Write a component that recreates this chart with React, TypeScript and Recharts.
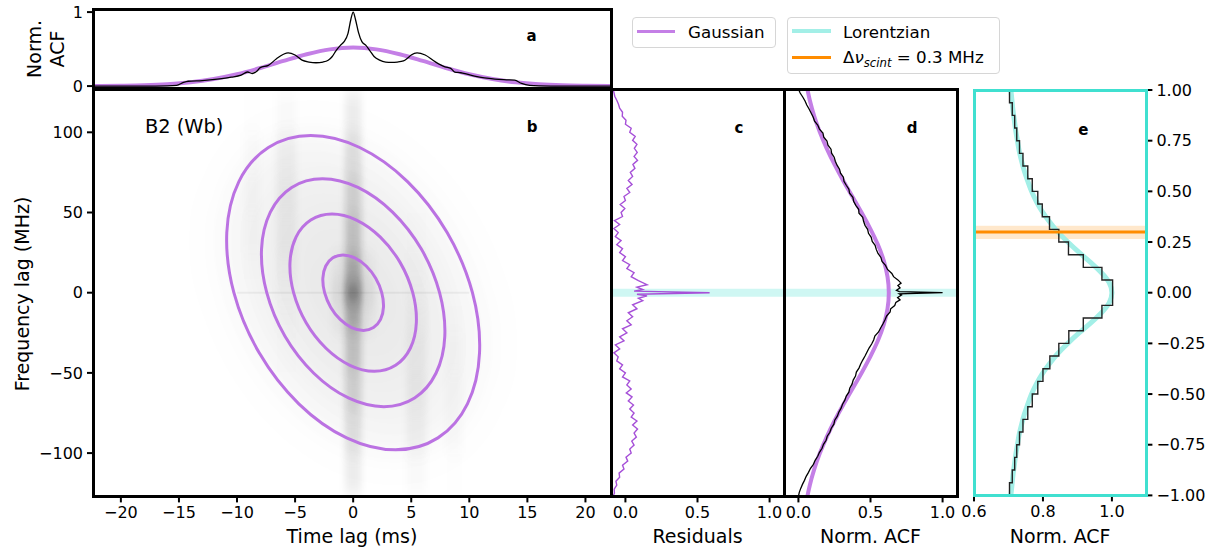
import React from "react";
import { ComposedChart, Line, XAxis, YAxis, ReferenceArea, ReferenceLine } from "recharts";

// ---------- data ----------
const timeTicks = [-20, -15, -10, -5, 0, 5, 10, 15, 20];
const freqTicks = [-100, -50, 0, 50, 100];
const acfTicks = [0, 0.5, 1];
const zoomAcfTicks = [0.6, 0.8, 1.0];
const zoomFreqTicks = [-1, -0.75, -0.5, -0.25, 0, 0.25, 0.5, 0.75, 1];

// panel a: ACF vs time lag [t ms, norm ACF]
const timeAcf = [
  [-22.4, 0], [-18, 0], [-16, 0.003], [-15.2, 0.01], [-14.6, 0.05], [-14.2, 0.065], [-13, 0.075],
  [-11.7, 0.094], [-10.5, 0.12], [-9.65, 0.148], [-9.1, 0.19], [-8.7, 0.17], [-8.3, 0.2], [-8.0, 0.25],
  [-7.3, 0.28], [-6.6, 0.37], [-6.0, 0.43], [-5.6, 0.45], [-5.0, 0.42], [-4.4, 0.35], [-3.8, 0.325],
  [-3.2, 0.315], [-2.6, 0.325], [-2.15, 0.35], [-1.8, 0.4], [-1.47, 0.48], [-1.1, 0.55], [-0.78, 0.6],
  [-0.45, 0.71], [-0.2, 0.9], [0, 1.0], [0.2, 0.9], [0.45, 0.73], [0.75, 0.6], [1.1, 0.55], [1.43, 0.48],
  [1.8, 0.4], [2.28, 0.35], [2.8, 0.325], [3.3, 0.32], [3.8, 0.325], [4.33, 0.34], [4.7, 0.38], [5.0, 0.42],
  [5.5, 0.45], [6.2, 0.42], [7.05, 0.33], [7.9, 0.26], [8.4, 0.24], [8.75, 0.19], [9.27, 0.18], [9.8, 0.16],
  [10.45, 0.135], [11.3, 0.11], [12.2, 0.094], [13.2, 0.085], [13.9, 0.08], [14.5, 0.036], [15.2, 0.01],
  [16, 0.003], [18, 0], [22.2, 0],
];
const timeGauss = [
  [-24, 0.001], [-22, 0.002], [-20, 0.005], [-18, 0.011], [-16, 0.025], [-14, 0.051], [-12, 0.095],
  [-10, 0.159], [-8, 0.244], [-6, 0.34], [-4, 0.43], [-2, 0.496], [0, 0.52], [2, 0.496], [4, 0.43],
  [6, 0.34], [8, 0.244], [10, 0.159], [12, 0.095], [14, 0.051], [16, 0.025], [18, 0.011], [20, 0.005],
  [22, 0.002], [24, 0.001],
];

// panel b: Gaussian-fit contours [t ms, f MHz]
const contour1 = [
  [2.46, 0], [1.94, 9.0], [1.12, 16.63], [0.13, 21.72], [-0.88, 23.52], [-1.75, 21.72], [-2.36, 16.63], [-2.61, 9.0],
  [-2.46, 0], [-1.94, -9.0], [-1.12, -16.63], [-0.13, -21.72], [0.88, -23.52], [1.75, -21.72], [2.36, -16.63], [2.61, -9.0],
];
const contour2 = [
  [5.13, 0], [4.05, 18.75], [2.34, 34.64], [0.28, 45.26], [-1.82, 48.99], [-3.65, 45.26], [-4.92, 34.64], [-5.44, 18.75],
  [-5.13, 0], [-4.05, -18.75], [-2.34, -34.64], [-0.28, -45.26], [1.82, -48.99], [3.65, -45.26], [4.92, -34.64], [5.44, -18.75],
];
const contour3 = [
  [7.44, 0], [5.87, 27.19], [3.39, 50.23], [0.41, 65.63], [-2.64, 71.04], [-5.29, 65.63], [-7.13, 50.23], [-7.89, 27.19],
  [-7.44, 0], [-5.87, -27.19], [-3.39, -50.23], [-0.41, -65.63], [2.64, -71.04], [5.29, -65.63], [7.13, -50.23], [7.89, -27.19],
];
const contour4 = [
  [10.27, 0], [8.09, 37.5], [4.68, 69.28], [0.56, 90.52], [-3.65, 97.98], [-7.3, 90.52], [-9.84, 69.28], [-10.88, 37.5],
  [-10.27, 0], [-8.09, -37.5], [-4.68, -69.28], [-0.56, -90.52], [3.65, -97.98], [7.3, -90.52], [9.84, -69.28], [10.88, -37.5],
];

// panel b: 2D ACF image, coarse stripes (time span in ms, darkness per frequency bin)
const heatFreqEdges = [125, 100, 75, 50, 25, 8, -8, -25, -50, -75, -100, -125];
const stripeSpans = [[-0.7, 0.7], [-1.8, 1.8], [-6.6, -4.9], [4.6, 6.3], [-9.4, -8.0], [8.0, 9.4]];
const stripeLevels = [
  [0.07, 0.11, 0.15, 0.2, 0.27, 0.42, 0.27, 0.2, 0.15, 0.11, 0.07],
  [0, 0, 0, 0, 0.03, 0.08, 0.03, 0, 0, 0, 0],
  [0.02, 0.045, 0.05, 0.045, 0.03, 0.02, 0.01, 0.005, 0, 0, 0],
  [0, 0, 0, 0.005, 0.01, 0.02, 0.03, 0.045, 0.05, 0.045, 0.02],
  [0.005, 0.015, 0.02, 0.015, 0.005, 0, 0, 0, 0, 0, 0],
  [0, 0, 0, 0, 0, 0, 0.005, 0.015, 0.02, 0.02, 0.005],
];
const zeroFreqRow = { t: [-10, 10], f: [-0.6, 0.6], level: 0.05 };

// panel c: residuals [f MHz, residual]
const residuals = [
  [127.5, -0.09], [125, -0.08], [122.5, -0.074], [120, -0.06], [117.5, -0.048], [115, -0.04], [112.5, -0.02],
  [110, -0.022], [107.5, 0.004], [105, 0], [102.5, 0.04], [100, 0.03], [97.5, 0.068], [95, 0.05], [92.5, 0.08],
  [90, 0.062], [87.5, 0.082], [85, 0.06], [82.5, 0.084], [80, 0.052], [77.5, 0.066], [75, 0.034], [72.5, 0.05],
  [70, 0.02], [67.5, 0.046], [65, 0.01], [62.5, 0.03], [60, -0.01], [57.5, 0], [55, -0.036], [52.5, -0.004],
  [50, -0.03], [47.5, -0.02], [45, -0.076], [42.5, -0.04], [40, -0.08], [37.5, -0.05], [35, -0.07], [32.5, -0.03],
  [30, -0.06], [27.5, -0.02], [25, -0.04], [22.5, 0], [20, -0.02], [17.5, 0.03], [15, 0.01], [12.5, 0.06],
  [10, 0.04], [7.5, 0.09], [5, 0.15], [3.5, 0.08], [2, 0.12], [1, 0.06], [0, 0.584], [-1, 0.08], [-2, 0.15],
  [-3.5, 0.09], [-5, 0.12], [-7.5, 0.05], [-10, 0.08], [-12.5, 0.02], [-15, 0.05], [-17.5, 0.01], [-20, 0.04],
  [-22.5, -0.02], [-25, 0.01], [-27.5, -0.04], [-30, -0.01], [-32.5, -0.07], [-35, -0.04], [-37.5, -0.08],
  [-40, -0.05], [-42.5, -0.06], [-45, -0.02], [-47.5, -0.04], [-50, 0], [-52.5, -0.02], [-55, 0.03],
  [-57.5, 0.01], [-60, 0.04], [-62.5, 0.006], [-65, 0.046], [-67.5, 0.02], [-70, 0.056], [-72.5, 0.03],
  [-75, 0.06], [-77.5, 0.04], [-80, 0.08], [-82.5, 0.05], [-85, 0.084], [-87.5, 0.06], [-90, 0.076],
  [-92.5, 0.044], [-95, 0.06], [-97.5, 0.03], [-100, 0.04], [-102.5, 0.004], [-105, 0.016], [-107.5, -0.02],
  [-110, -0.01], [-112.5, -0.044], [-115, -0.04], [-117.5, -0.066], [-120, -0.06], [-122.5, -0.078],
  [-125, -0.076], [-127.5, -0.09],
];

// panel d: ACF vs frequency lag [f MHz, norm ACF]
const freqAcf = [
  [127, 0], [124.5, 0.012], [122, 0.03], [119.5, 0.046], [117, 0.058], [114.5, 0.074], [112, 0.088],
  [109.5, 0.102], [107, 0.112], [104.5, 0.134], [102, 0.146], [99.5, 0.17], [97, 0.176], [94.5, 0.198],
  [92, 0.205], [89.5, 0.226], [87, 0.23], [84.5, 0.248], [82, 0.256], [79.5, 0.268], [77, 0.285], [74.5, 0.292],
  [72, 0.312], [69.5, 0.316], [67, 0.332], [64.5, 0.35], [62, 0.355], [59.5, 0.378], [57, 0.383], [54.5, 0.398],
  [52, 0.418], [49.5, 0.42], [47, 0.446], [44.5, 0.452], [42, 0.462], [39.5, 0.48], [37, 0.486], [34.5, 0.505],
  [32, 0.512], [29.5, 0.532], [27, 0.54], [24.5, 0.552], [22, 0.572], [19.5, 0.58], [17, 0.604], [14.5, 0.618],
  [12, 0.648], [10, 0.66], [8, 0.69], [6, 0.712], [4.5, 0.69], [3, 0.705], [1.5, 0.68], [0.7, 0.7], [0, 1.0],
  [-0.7, 0.7], [-1.5, 0.715], [-3, 0.688], [-4.5, 0.705], [-6, 0.676], [-8, 0.668], [-10, 0.64], [-12, 0.636],
  [-14.5, 0.612], [-17, 0.6], [-19.5, 0.586], [-22, 0.57], [-24.5, 0.556], [-27, 0.53], [-29.5, 0.522],
  [-32, 0.508], [-34.5, 0.49], [-37, 0.476], [-39.5, 0.462], [-42, 0.446], [-44.5, 0.432], [-47, 0.42],
  [-49.5, 0.402], [-52, 0.396], [-54.5, 0.38], [-57, 0.372], [-59.5, 0.356], [-62, 0.35], [-64.5, 0.332],
  [-67, 0.322], [-69.5, 0.306], [-72, 0.296], [-74.5, 0.28], [-77, 0.27], [-79.5, 0.252], [-82, 0.246],
  [-84.5, 0.228], [-87, 0.218], [-89.5, 0.2], [-92, 0.192], [-94.5, 0.174], [-97, 0.164], [-99.5, 0.146],
  [-102, 0.134], [-104.5, 0.116], [-107, 0.104], [-109.5, 0.084], [-112, 0.07], [-114.5, 0.054], [-117, 0.042],
  [-119.5, 0.028], [-122, 0.016], [-124.5, 0.006], [-127, 0],
];
const freqGauss = [
  [130, 0.055], [120, 0.079], [110, 0.11], [100, 0.149], [90, 0.196], [80, 0.25], [70, 0.31], [60, 0.374],
  [50, 0.438], [40, 0.498], [30, 0.551], [20, 0.592], [10, 0.618], [0, 0.627], [-10, 0.618], [-20, 0.592],
  [-30, 0.551], [-40, 0.498], [-50, 0.438], [-60, 0.374], [-70, 0.31], [-80, 0.25], [-90, 0.196],
  [-100, 0.149], [-110, 0.11], [-120, 0.079], [-130, 0.055],
];

// panel e: zoom on the central MHz [f MHz, norm ACF]
const zoomAcf = [
  [1.0, 0.703], [0.96875, 0.703], [0.90625, 0.711], [0.84375, 0.718], [0.78125, 0.724], [0.71875, 0.732],
  [0.65625, 0.742], [0.59375, 0.756], [0.53125, 0.769], [0.46875, 0.785], [0.40625, 0.798], [0.34375, 0.819],
  [0.28125, 0.846], [0.21875, 0.874], [0.15625, 0.917], [0.09375, 0.971], [0.03125, 1.002], [-0.03125, 1.002],
  [-0.09375, 0.971], [-0.15625, 0.917], [-0.21875, 0.875], [-0.28125, 0.846], [-0.34375, 0.82], [-0.40625, 0.8],
  [-0.46875, 0.785], [-0.53125, 0.769], [-0.59375, 0.756], [-0.65625, 0.742], [-0.71875, 0.732],
  [-0.78125, 0.724], [-0.84375, 0.718], [-0.90625, 0.711], [-0.96875, 0.703], [-1.0, 0.703],
];
const zoomLorentz = [
  [1.0, 0.707], [0.95, 0.71], [0.9, 0.713], [0.85, 0.717], [0.8, 0.721], [0.75, 0.726], [0.7, 0.731],
  [0.65, 0.738], [0.6, 0.746], [0.55, 0.756], [0.5, 0.767], [0.45, 0.781], [0.4, 0.798], [0.35, 0.819],
  [0.3, 0.843], [0.25, 0.872], [0.2, 0.904], [0.15, 0.938], [0.1, 0.969], [0.05, 0.992], [0, 1.0],
  [-0.05, 0.992], [-0.1, 0.969], [-0.15, 0.938], [-0.2, 0.904], [-0.25, 0.872], [-0.3, 0.843], [-0.35, 0.819],
  [-0.4, 0.798], [-0.45, 0.781], [-0.5, 0.767], [-0.55, 0.756], [-0.6, 0.746], [-0.65, 0.738], [-0.7, 0.731],
  [-0.75, 0.726], [-0.8, 0.721], [-0.85, 0.717], [-0.9, 0.713], [-0.95, 0.71], [-1.0, 0.707],
];
const scintBw = 0.3;
const scintBand = [0.265, 0.33];
const zeroLagBand = [-2.5, 2.5];

// ---------- helpers ----------
const FONT = "'DejaVu Sans', sans-serif";
const PURPLE = "#bb72e2";
const GAUSS = "#c47fe6";
const RESID = "#a650d8";
const CYAN_LINE = "#a3efe7";
const TURQ = "#40e0d0";
const ORANGE = "#ff8c00";

const tv = (rows: number[][]) => rows.map(([t, v]) => ({ t, v }));
const tf = (rows: number[][]) => rows.map(([t, f]) => ({ t, f }));
const fv = (rows: number[][]) => rows.map(([f, v]) => ({ f, v }));
const fmt = (d: number) => (v: number) => v.toFixed(d).replace("-", "\u2212");

const contours = [contour1, contour2, contour3, contour4].map(tf);
const heatCells = stripeSpans.flatMap((span, i) =>
  stripeLevels[i]
    .map((level, j) => ({ key: `${i}-${j}`, x1: span[0], x2: span[1], y1: heatFreqEdges[j + 1], y2: heatFreqEdges[j], level }))
    .filter((c) => c.level > 0)
);

// closed Catmull-Rom curve for the contour rings
function closedSmooth(context: any) {
  let pts: number[][] = [];
  return {
    areaStart() {},
    areaEnd() {},
    lineStart() { pts = []; },
    point(x: number, y: number) { pts.push([+x, +y]); },
    lineEnd() {
      const n = pts.length;
      if (n < 3) return;
      context.moveTo(pts[0][0], pts[0][1]);
      for (let i = 0; i < n; i++) {
        const p0 = pts[(i + n - 1) % n], p1 = pts[i], p2 = pts[(i + 1) % n], p3 = pts[(i + 2) % n];
        context.bezierCurveTo(
          p1[0] + (p2[0] - p0[0]) / 6, p1[1] + (p2[1] - p0[1]) / 6,
          p2[0] - (p3[0] - p1[0]) / 6, p2[1] - (p3[1] - p1[1]) / 6,
          p2[0], p2[1]
        );
      }
      context.closePath();
    },
  };
}

// step curve that changes value half-way between channels along y
function stepMidY(context: any) {
  let prev: number[] | null = null;
  return {
    areaStart() {},
    areaEnd() {},
    lineStart() { prev = null; },
    point(x: number, y: number) {
      if (!prev) context.moveTo(x, y);
      else {
        const my = (prev[1] + y) / 2;
        context.lineTo(prev[0], my);
        context.lineTo(x, my);
        context.lineTo(x, y);
      }
      prev = [x, y];
    },
    lineEnd() {},
  };
}

const tickStyle = { fontSize: 16, fill: "#000", fontFamily: FONT };
const tickLineStyle = { stroke: "#000", strokeWidth: 2 };
const xLabel = (value: string) => ({ value, position: "insideBottom", offset: 8, fontSize: 19, fill: "#000", fontFamily: FONT });
const noAnim = { dot: false, activeDot: false, isAnimationActive: false } as const;

const abs = (left: number, top: number, extra: React.CSSProperties = {}): React.CSSProperties => ({ position: "absolute", left, top, ...extra });

function Frame({ x0, y0, x1, y1, color = "#000" }: { x0: number; y0: number; x1: number; y1: number; color?: string }) {
  return (
    <div
      style={abs(x0 - 1.5, y0 - 1.5, {
        width: x1 - x0 + 3, height: y1 - y0 + 3, border: `3px solid ${color}`, boxSizing: "border-box", pointerEvents: "none",
      })}
    />
  );
}

function Txt({ x, base, size, children, bold, center }: { x: number; base: number; size: number; children: React.ReactNode; bold?: boolean; center?: boolean }) {
  return (
    <div
      style={abs(x, base - 0.846 * size, {
        fontSize: size, lineHeight: `${size}px`, fontWeight: bold ? "bold" : "normal", whiteSpace: "nowrap",
        transform: center ? "translateX(-50%)" : undefined,
      })}
    >
      {children}
    </div>
  );
}

export default function App() {
  return (
    <div style={{ position: "absolute", left: 0, top: 0, width: 1221, height: 551, background: "#fff", fontFamily: FONT, color: "#000", overflow: "hidden" }}>
      <style>{`
        .hm-stripe path { filter: url(#stripeBlur); }
        .hm-blob .recharts-line-curve { fill: #000; fill-opacity: 0.014; stroke: none; filter: url(#blobBlur); }
        .hm-halo .recharts-line-curve { fill: #000; fill-opacity: 0.03; stroke: none; filter: url(#haloBlur); }
      `}</style>
      <svg width={0} height={0} style={{ position: "absolute" }}>
        <defs>
          <filter id="stripeBlur" filterUnits="userSpaceOnUse" x={-300} y={-300} width={2000} height={1200}>
            <feGaussianBlur stdDeviation="3 8" />
          </filter>
          <filter id="blobBlur" filterUnits="userSpaceOnUse" x={-300} y={-300} width={2000} height={1200}>
            <feGaussianBlur stdDeviation={12} />
          </filter>
          <filter id="haloBlur" filterUnits="userSpaceOnUse" x={-300} y={-300} width={2000} height={1200}>
            <feGaussianBlur stdDeviation={26} />
          </filter>
        </defs>
      </svg>

      {/* panel a */}
      <div style={abs(0, 0)}>
        <ComposedChart width={616} height={100} margin={{ top: 9.5, right: 5, bottom: 11.7, left: 0 }}>
          <XAxis type="number" dataKey="t" domain={[-22.4, 22.2]} hide allowDataOverflow />
          <YAxis type="number" domain={[-0.03, 1.035]} ticks={[0, 1]} width={93} tick={tickStyle} tickLine={tickLineStyle}
            axisLine={false} tickSize={6} tickMargin={4} interval={0} allowDataOverflow />
          <Line data={tv(timeGauss)} dataKey="v" type="monotone" stroke={GAUSS} strokeWidth={4} {...noAnim} />
          <Line data={tv(timeAcf)} dataKey="v" type="monotone" stroke="#000" strokeWidth={1.3} {...noAnim} />
        </ComposedChart>
      </div>

      {/* panel b: image layer */}
      <div style={abs(0, 77)}>
        <ComposedChart width={616} height={474} margin={{ top: 12, right: 5, bottom: 54.6, left: 93 }}>
          <XAxis type="number" dataKey="t" domain={[-22.4, 22.2]} hide allowDataOverflow />
          <YAxis type="number" domain={[-127, 127]} hide allowDataOverflow />
          <Line data={contours[3]} dataKey="f" type={closedSmooth as any} className="hm-halo" stroke="none" {...noAnim} />
          {contours.map((c, i) => (
            <Line key={i} data={c} dataKey="f" type={closedSmooth as any} className="hm-blob" stroke="none" {...noAnim} />
          ))}
          {heatCells.map((c) => (
            <ReferenceArea key={c.key} x1={c.x1} x2={c.x2} y1={c.y1} y2={c.y2} fill="#000" fillOpacity={c.level}
              stroke="none" ifOverflow="hidden" className="hm-stripe" />
          ))}
          <ReferenceArea x1={zeroFreqRow.t[0]} x2={zeroFreqRow.t[1]} y1={zeroFreqRow.f[0]} y2={zeroFreqRow.f[1]}
            fill="#000" fillOpacity={zeroFreqRow.level} stroke="none" ifOverflow="hidden" />
        </ComposedChart>
      </div>

      {/* panel b: axes + contours */}
      <div style={abs(0, 77)}>
        <ComposedChart width={616} height={474} margin={{ top: 12, right: 5, bottom: 0, left: 0 }}>
          <XAxis type="number" dataKey="t" domain={[-22.4, 22.2]} ticks={timeTicks} height={54.6} tick={tickStyle}
            tickLine={tickLineStyle} axisLine={false} tickSize={6} tickMargin={4} interval={0} tickFormatter={fmt(0)}
            allowDataOverflow label={xLabel("Time lag (ms)")} />
          <YAxis type="number" domain={[-127, 127]} ticks={freqTicks} width={93} tick={tickStyle} tickLine={tickLineStyle}
            axisLine={false} tickSize={6} tickMargin={4} interval={0} tickFormatter={fmt(0)} allowDataOverflow />
          {contours.map((c, i) => (
            <Line key={i} data={c} dataKey="f" type={closedSmooth as any} stroke={PURPLE} strokeWidth={3} {...noAnim} />
          ))}
        </ComposedChart>
      </div>

      {/* panel c */}
      <div style={abs(601, 77)}>
        <ComposedChart width={188} height={474} margin={{ top: 12, right: 5, bottom: 0, left: 0 }}>
          <XAxis type="number" dataKey="v" domain={[-0.1, 1.1]} ticks={acfTicks} height={54.6} tick={tickStyle}
            tickLine={tickLineStyle} axisLine={false} tickSize={6} tickMargin={4} interval={0} tickFormatter={fmt(1)}
            allowDataOverflow label={xLabel("Residuals")} />
          <YAxis type="number" domain={[-127, 127]} ticks={freqTicks} width={10} tick={false} tickLine={tickLineStyle}
            axisLine={false} tickSize={6} interval={0} allowDataOverflow />
          <ReferenceArea y1={zeroLagBand[0]} y2={zeroLagBand[1]} fill={TURQ} fillOpacity={0.25} stroke="none" />
          <Line data={fv(residuals)} dataKey="f" type="linear" stroke={RESID} strokeWidth={1.4} {...noAnim} />
        </ComposedChart>
      </div>

      {/* panel d */}
      <div style={abs(774, 77)}>
        <ComposedChart width={188} height={474} margin={{ top: 12, right: 5, bottom: 0, left: 0 }}>
          <XAxis type="number" dataKey="v" domain={[-0.1, 1.1]} ticks={acfTicks} height={54.6} tick={tickStyle}
            tickLine={tickLineStyle} axisLine={false} tickSize={6} tickMargin={4} interval={0} tickFormatter={fmt(1)}
            allowDataOverflow label={xLabel("Norm. ACF")} />
          <YAxis type="number" domain={[-127, 127]} ticks={freqTicks} width={10} tick={false} tickLine={tickLineStyle}
            axisLine={false} tickSize={6} interval={0} allowDataOverflow />
          <ReferenceArea y1={zeroLagBand[0]} y2={zeroLagBand[1]} fill={TURQ} fillOpacity={0.25} stroke="none" />
          <Line data={fv(freqGauss)} dataKey="f" type="natural" stroke={GAUSS} strokeWidth={4} {...noAnim} />
          <Line data={fv(freqAcf)} dataKey="f" type="linear" stroke="#000" strokeWidth={1.3} {...noAnim} />
        </ComposedChart>
      </div>

      {/* panel e */}
      <div style={abs(954.3, 78)}>
        <ComposedChart width={262.4} height={473} margin={{ top: 12, right: 0, bottom: 0, left: 20 }}>
          <XAxis type="number" dataKey="v" domain={[0.6, 1.1]} ticks={zoomAcfTicks} height={55.6} tick={tickStyle}
            tickLine={tickLineStyle} axisLine={false} tickSize={6} tickMargin={4} interval={0} tickFormatter={fmt(1)}
            allowDataOverflow label={xLabel("Norm. ACF")} />
          <YAxis type="number" orientation="right" domain={[-1, 1]} ticks={zoomFreqTicks} width={70} tick={tickStyle}
            tickLine={tickLineStyle} axisLine={false} tickSize={6} tickMargin={4} interval={0} tickFormatter={fmt(2)}
            allowDataOverflow />
          <ReferenceArea y1={scintBand[0]} y2={scintBand[1]} fill={ORANGE} fillOpacity={0.2} stroke="none" />
          <Line data={fv(zoomLorentz)} dataKey="f" type="natural" stroke={CYAN_LINE} strokeWidth={5} {...noAnim} />
          <Line data={fv(zoomAcf)} dataKey="f" type={stepMidY as any} stroke="#222" strokeWidth={1.4} {...noAnim} />
          <ReferenceLine y={scintBw} stroke={ORANGE} strokeWidth={3} />
        </ComposedChart>
      </div>

      {/* frames */}
      <Frame x0={93} y0={9.5} x1={611} y1={88.3} />
      <Frame x0={93} y0={89} x1={611} y1={496.4} />
      <Frame x0={611} y0={89} x1={784} y1={496.4} />
      <Frame x0={784} y0={89} x1={957} y1={496.4} />
      <Frame x0={974.3} y0={90} x1={1146.7} y1={495.4} color={TURQ} />

      {/* rotated axis labels */}
      <div style={abs(22, 293.5, { transform: "translate(-50%, -50%) rotate(-90deg)", fontSize: 19, lineHeight: "19px", whiteSpace: "nowrap" })}>
        Frequency lag (MHz)
      </div>
      <div style={abs(46, 48.8, { transform: "translate(-50%, -50%) rotate(-90deg)", fontSize: 19, lineHeight: "23px", whiteSpace: "nowrap", textAlign: "center" })}>
        Norm.<br />ACF
      </div>

      {/* panel annotations */}
      <Txt x={531.6} base={41.7} size={15} bold center>a</Txt>
      <Txt x={532} base={132.7} size={15} bold center>b</Txt>
      <Txt x={739} base={133.3} size={15} bold center>c</Txt>
      <Txt x={912} base={133.3} size={15} bold center>d</Txt>
      <Txt x={1083.3} base={136} size={15} bold center>e</Txt>
      <Txt x={145} base={133} size={19.4}>B2 (Wb)</Txt>

      {/* legends */}
      <div style={abs(632, 17.3, { width: 144, height: 31, border: "1px solid #d6d6d6", borderRadius: 4, boxSizing: "border-box", background: "#fff" })} />
      <div style={abs(637, 30.2, { width: 38, height: 3, background: GAUSS })} />
      <Txt x={688} base={38.3} size={16.7}>Gaussian</Txt>

      <div style={abs(787, 16.7, { width: 213, height: 57.3, border: "1px solid #d6d6d6", borderRadius: 4, boxSizing: "border-box", background: "#fff" })} />
      <div style={abs(792, 29, { width: 39, height: 4, background: CYAN_LINE })} />
      <Txt x={843} base={38.3} size={16.7}>Lorentzian</Txt>
      <div style={abs(792, 56, { width: 39, height: 2.6, background: ORANGE })} />
      <Txt x={843} base={63.3} size={16.7}>
        Δ<i>ν</i>
        <span style={{ fontSize: "0.7em", fontStyle: "italic", position: "relative", top: "0.3em" }}>scint</span>
        {" = 0.3 MHz"}
      </Txt>
    </div>
  );
}
